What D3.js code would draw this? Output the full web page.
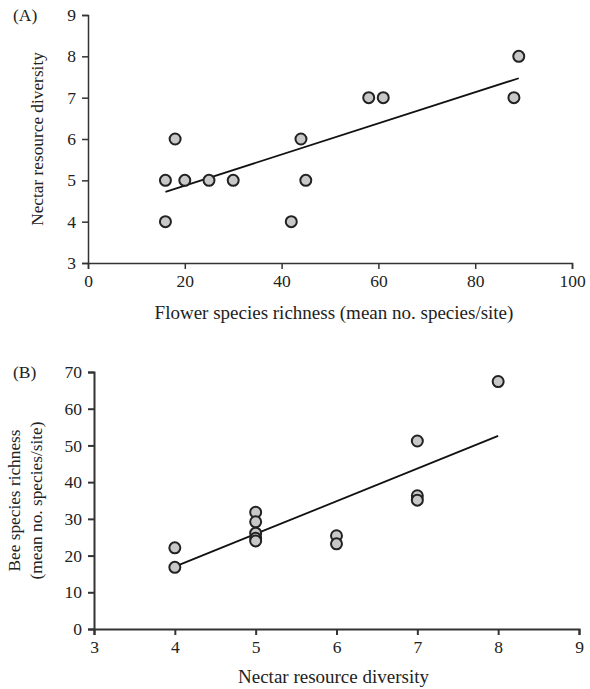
<!DOCTYPE html>
<html>
<head>
<meta charset="utf-8">
<script src="https://d3js.org/d3.v7.min.js"></script>
<style>
  body { margin: 0; background: #fff; }
  svg text { font-family: "Liberation Serif", "DejaVu Serif", serif; fill: #222; }
</style>
</head>
<body>
<div id="chart"></div>
<script>
// panel A: flower richness vs nectar diversity
var flowerRichness = [16, 16, 18, 20, 25, 30, 42, 44, 45, 58, 61, 88, 89];
var nectarA = [4, 5, 6, 5, 5, 5, 4, 6, 5, 7, 7, 7, 8];
var fitA = [[16, 4.72], [89, 7.47]];
var xTicksA = [0, 20, 40, 60, 80, 100];
var yTicksA = [3, 4, 5, 6, 7, 8, 9];

// panel B: nectar diversity vs bee richness
var nectarB = [4, 4, 5, 5, 5, 5, 5, 6, 6, 7, 7, 7, 8];
var beeRichness = [22.1, 16.8, 31.8, 29.2, 26.1, 24.7, 24, 25.4, 23.2, 51.2, 36.3, 35.1, 67.4];
var fitB = [[4, 17], [8, 52.6]];
var xTicksB = [3, 4, 5, 6, 7, 8, 9];
var yTicksB = [0, 10, 20, 30, 40, 50, 60, 70];

var width = 590, height = 689;
var svg = d3.select("#chart").append("svg")
  .attr("width", width)
  .attr("height", height);

function panel(opts) {
  var x = d3.scaleLinear().domain(opts.xDomain).range(opts.xRange);
  var y = d3.scaleLinear().domain(opts.yDomain).range(opts.yRange);
  var g = svg.append("g");

  var xa = g.append("g")
    .attr("transform", "translate(0," + opts.yRange[0] + ")")
    .call(d3.axisBottom(x).tickValues(opts.xTicks).tickFormat(d3.format("d"))
      .tickSizeOuter(0).tickSize(6).tickPadding(6));

  var ya = g.append("g")
    .attr("transform", "translate(" + opts.xRange[0] + ",0)")
    .call(d3.axisLeft(y).tickValues(opts.yTicks).tickFormat(d3.format("d"))
      .tickSizeOuter(0).tickSize(6).tickPadding(6));

  [xa, ya].forEach(function(a) {
    a.attr("font-family", null).attr("font-size", null);
    a.selectAll("path, line").attr("stroke", "#333").attr("stroke-width", opts.axisWidth);
    a.selectAll("text").attr("font-size", 17.5).attr("fill", "#222");
  });

  g.append("line")
    .attr("x1", x(opts.fit[0][0])).attr("y1", y(opts.fit[0][1]))
    .attr("x2", x(opts.fit[1][0])).attr("y2", y(opts.fit[1][1]))
    .attr("stroke", "#111").attr("stroke-width", 1.8);

  g.selectAll("circle.pt")
    .data(opts.xs.map(function(d, i) { return [d, opts.ys[i]]; }))
    .enter().append("circle")
    .attr("class", "pt")
    .attr("cx", function(d) { return x(d[0]); })
    .attr("cy", function(d) { return y(d[1]); })
    .attr("r", 5.5)
    .attr("fill", "#c8c8c8")
    .attr("stroke", "#222")
    .attr("stroke-width", 2);

  g.append("text")
    .attr("x", opts.labelPos[0]).attr("y", opts.labelPos[1])
    .attr("font-size", 17.5)
    .text(opts.label);

  g.append("text")
    .attr("x", (opts.xRange[0] + opts.xRange[1]) / 2 + opts.xTitleShift)
    .attr("y", opts.xTitleY)
    .attr("text-anchor", "middle")
    .attr("font-size", 19)
    .text(opts.xTitle);

  var yt = g.append("text")
    .attr("transform", "translate(" + opts.yTitleX + "," + ((opts.yRange[0] + opts.yRange[1]) / 2) + ") rotate(-90)")
    .attr("text-anchor", "middle")
    .attr("font-size", 17.3);
  opts.yTitle.forEach(function(t, i) {
    yt.append("tspan").attr("x", 0).attr("dy", i === 0 ? 0 : 22).text(t);
  });
}

panel({
  xs: flowerRichness, ys: nectarA, fit: fitA,
  xDomain: [0, 100], yDomain: [3, 9],
  xRange: [88, 572], yRange: [263, 15],
  xTicks: xTicksA, yTicks: yTicksA,
  axisWidth: 1.5,
  label: "(A)", labelPos: [13, 21],
  xTitle: "Flower species richness (mean no. species/site)", xTitleShift: 4, xTitleY: 319,
  yTitle: ["Nectar resource diversity"], yTitleX: 43
});

panel({
  xs: nectarB, ys: beeRichness, fit: fitB,
  xDomain: [3, 9], yDomain: [0, 70],
  xRange: [94, 579], yRange: [629, 372],
  xTicks: xTicksB, yTicks: yTicksB,
  axisWidth: 2,
  label: "(B)", labelPos: [13, 378],
  xTitle: "Nectar resource diversity", xTitleShift: -3, xTitleY: 683,
  yTitle: ["Bee species richness", "(mean no. species/site)"], yTitleX: 20
});
</script>
</body>
</html>
